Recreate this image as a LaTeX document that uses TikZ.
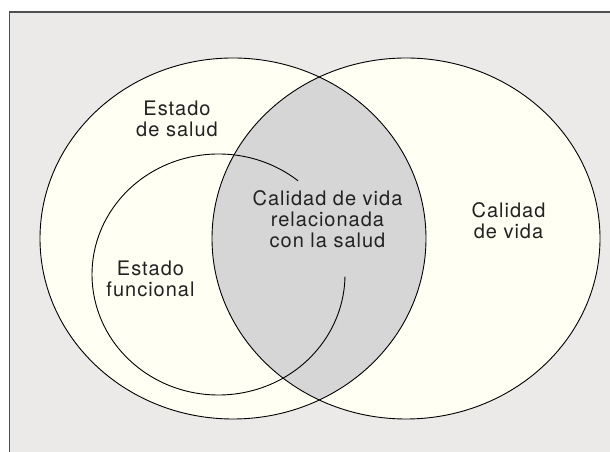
\documentclass[tikz,border=0pt]{standalone}
\usepackage{fontspec}
\setmainfont[LetterSpace=5]{TeX Gyre Heros}
\usetikzlibrary{calc}
\definecolor{bgc}{HTML}{EBEAE8}
\definecolor{cream}{HTML}{FFFFF3}
\definecolor{midgrey}{HTML}{D6D6D6}
\definecolor{framec}{HTML}{505050}
\definecolor{txtc}{HTML}{222222}
\tikzset{
  lbl/.style={anchor=south, align=center, inner sep=0pt, text=txtc,
    font=\fontsize{20}{21}\selectfont},
  outline/.style={draw=black, line width=0.9pt},
}
\begin{document}
\begin{tikzpicture}[x=1pt,y=1pt]
\useasboundingbox (0,0) rectangle (610,452);
\fill[white] (0,0) rectangle (610,452);
\fill[bgc] (9.5,0) rectangle (610,440);
\draw[framec, line width=1.4pt] (9.5,0) -- (9.5,440) -- (610,440);
% ellipses
\fill[cream] (233,213.5) ellipse [x radius=193, y radius=180.5];
\fill[cream] (406,213.5) ellipse [x radius=194, y radius=180.5];
\begin{scope}
  \clip (233,213.5) ellipse [x radius=193, y radius=180.5];
  \fill[midgrey] (406,213.5) ellipse [x radius=194, y radius=180.5];
\end{scope}
\draw[outline] (233,213.5) ellipse [x radius=193, y radius=180.5];
\draw[outline] (406,213.5) ellipse [x radius=194, y radius=180.5];
% functional-state arc
\coordinate (fc) at (218.5,177.5);
\draw[outline] ($(fc)+(51:126.5 and 120.5)$) arc [start angle=51, end angle=359, x radius=126.5, y radius=120.5];
% labels
\node[lbl] (salud) at (177,452-137) {Estado\\de salud};
\node[lbl] (func) at (150.5,452-296.7) {Estado\\funcional};
\node[lbl] (cvrs) at (327.5,452-248) {Calidad de vida\\relacionada\\con la salud};
\node[lbl] (cv) at (508.5,452-239) {Calidad\\de vida};
\end{tikzpicture}
\end{document}
